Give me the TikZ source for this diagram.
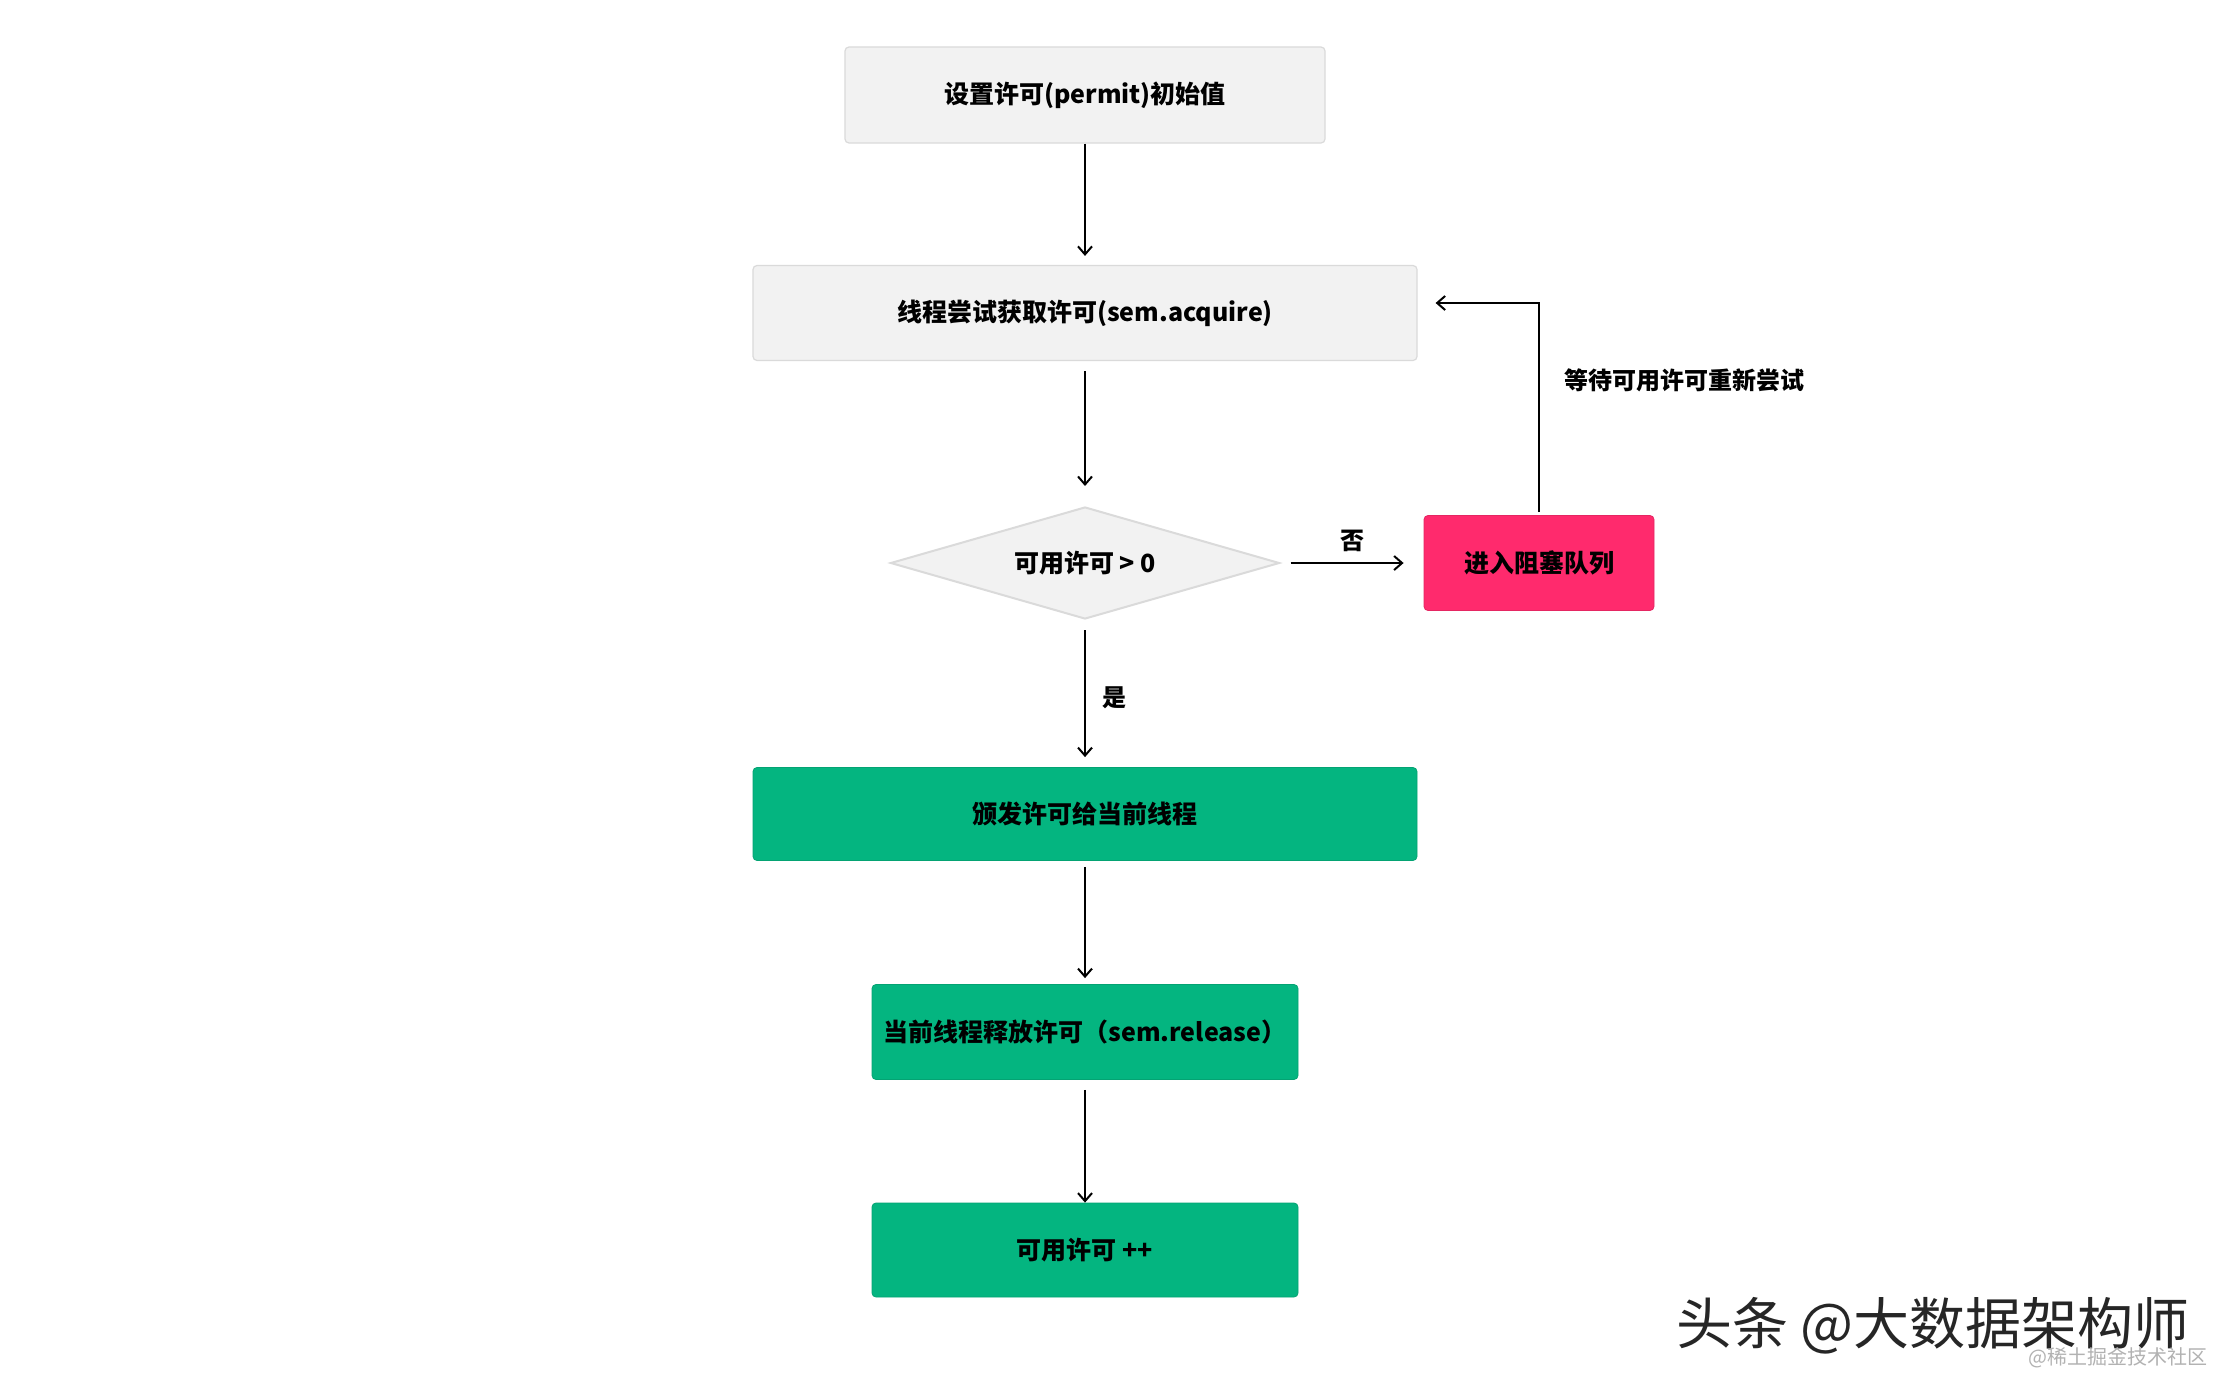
\documentclass[tikz,border=0pt]{standalone}
\usepackage{fontspec}
\setmainfont{Noto Sans CJK SC}
\newfontfamily\cjkb{Noto Sans CJK SC Black}
\usetikzlibrary{shapes.geometric,arrows.meta}
\definecolor{boxgray}{RGB}{242,242,242}
\definecolor{boxline}{RGB}{218,218,218}
\definecolor{okgreen}{RGB}{4,181,128}
\definecolor{blockpink}{RGB}{255,42,109}
\tikzset{
  base/.style={font=\cjkb\fontsize{12.5pt}{15pt}\selectfont, text=black, inner sep=0pt, anchor=center},
  graybox/.style={base, rectangle, rounded corners=2pt, fill=boxgray, draw=boxline, line width=0.6pt},
  greenbox/.style={base, rectangle, rounded corners=2pt, fill=okgreen, draw=okgreen!90!black, line width=0.4pt},
  pinkbox/.style={base, rectangle, rounded corners=2pt, fill=blockpink, draw=blockpink!90!black, line width=0.4pt},
  decision/.style={base, diamond, aspect=3.5, fill=boxgray, draw=boxline, line width=1pt},
  arr/.style={draw=black, line width=1pt, -{Straight Barb[length=4pt,width=7pt,line width=1pt]}},
  lbl/.style={font=\cjkb\fontsize{12pt}{14pt}\selectfont, text=black, inner sep=0pt}
}
\begin{document}
\begin{tikzpicture}[x=0.5pt,y=-0.5pt]
\useasboundingbox[fill=white] (0,0) rectangle (2240,1398);

\node[graybox, minimum width=480*0.5pt, minimum height=96*0.5pt] (init) at (1085,95) {设置许可(permit)初始值};
\node[graybox, minimum width=664*0.5pt, minimum height=95*0.5pt] (try) at (1085,313) {线程尝试获取许可(sem.acquire)};
\node[decision, minimum width=389*0.5pt, minimum height=112*0.5pt] (dia) at (1085,563) {可用许可 > 0};
\node[pinkbox, minimum width=230*0.5pt, minimum height=95*0.5pt] (block) at (1539,563) {进入阻塞队列};
\node[greenbox, minimum width=664*0.5pt, minimum height=93*0.5pt] (g1) at (1085,814) {颁发许可给当前线程};
\node[greenbox, minimum width=426*0.5pt, minimum height=95*0.5pt] (g2) at (1085,1032) {当前线程释放许可（sem.release）};
\node[greenbox, minimum width=426*0.5pt, minimum height=94*0.5pt] (g3) at (1085,1250) {可用许可 ++};

\draw[arr, shorten >=4.5pt] (init) -- (try);
\draw[arr, shorten <=5pt, shorten >=10pt] (try) -- (dia);
\draw[arr, shorten <=5pt, shorten >=5pt] (dia) -- node[lbl, anchor=west, xshift=8pt, yshift=-2pt] (yes) {是} (g1);
\draw[arr, shorten <=3pt, shorten >=3pt] (g1) -- (g2);
\draw[arr, shorten <=5pt, shorten >=0pt] (g2) -- (g3);
\draw[arr, shorten <=5pt, shorten >=10pt] (dia) -- node[lbl, above=5pt] (no) {否} (block);
\draw[arr, shorten <=1.5pt, shorten >=9pt] (block.north) |- ([yshift=5pt]try.east);
\node[lbl, anchor=west] (waitlbl) at (1564,380) {等待可用许可重新尝试};

\node[font=\fontsize{28pt}{30pt}\selectfont, text=black!85, inner sep=0pt, anchor=west] (wm) at (1676,1326) {头条 @大数据架构师};
\node[font=\fontsize{10pt}{11pt}\selectfont, text=black!30, inner sep=0pt, anchor=east] (wm2) at (2208,1358) {@稀土掘金技术社区};
\end{tikzpicture}
\end{document}
